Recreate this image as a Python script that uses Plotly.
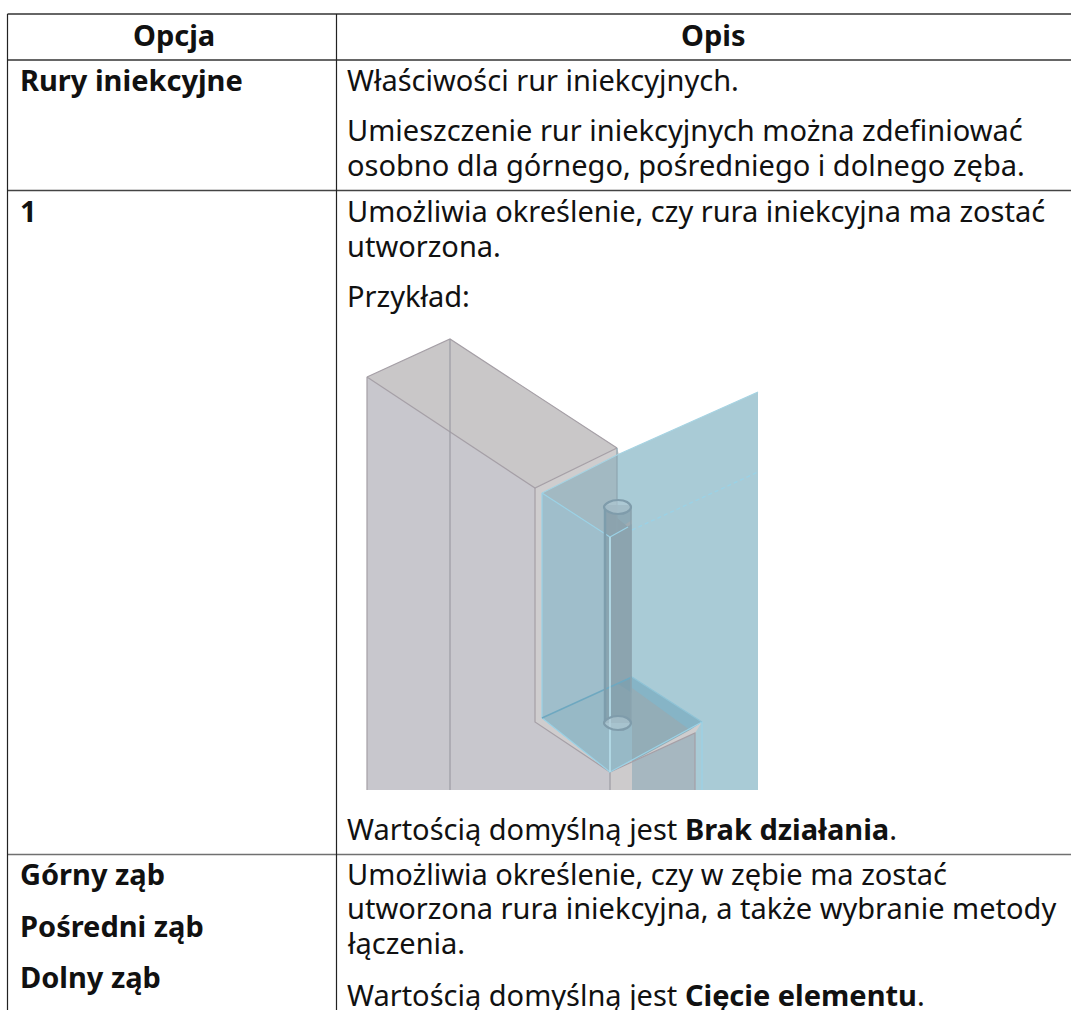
import plotly.graph_objects as go

W, H = 1071, 1010
FONT = "Noto Sans"
FS = 29

# table text: (x, y-centre, anchor, text)
header_labels = [(174, 34, "center", "<b>Opcja</b>"), (713, 34, "center", "<b>Opis</b>")]
option_labels = [
    (18, 79, "left", "<b>Rury iniekcyjne</b>"),
    (18, 210, "left", "<b>1</b>"),
    (18, 873, "left", "<b>Górny ząb</b>"),
    (18, 925, "left", "<b>Pośredni ząb</b>"),
    (18, 976, "left", "<b>Dolny ząb</b>"),
]
desc_labels = [
    (345, 79, "left", "Właściwości rur iniekcyjnych."),
    (345, 129, "left", "Umieszczenie rur iniekcyjnych można zdefiniować"),
    (345, 164, "left", "osobno dla górnego, pośredniego i dolnego zęba."),
    (345, 210, "left", "Umożliwia określenie, czy rura iniekcyjna ma zostać"),
    (345, 245, "left", "utworzona."),
    (345, 295, "left", "Przykład:"),
    (345, 828, "left", "Wartością domyślną jest <b>Brak działania</b>."),
    (345, 873, "left", "Umożliwia określenie, czy w zębie ma zostać"),
    (345, 907, "left", "utworzona rura iniekcyjna, a także wybranie metody"),
    (345, 942, "left", "łączenia."),
    (345, 994, "left", "Wartością domyślną jest <b>Cięcie elementu</b>."),
]

# table rules: (position, colour, width)
rows_y = [(14, "#666666", 2), (60, "#333333", 1.6), (190.5, "#444444", 1.6), (854.5, "#707070", 1.6)]
cols_x = [(7.5, "#222222", 1.2), (336.5, "#222222", 1.2), (1070.5, "#aaaaaa", 1)]

# drawing: filled faces (x list, y list, colour)
faces = [
    ([367, 450, 617, 535], [377, 339, 448, 488], "#c9c7c8"),
    ([367, 535, 535, 610, 610, 367], [377, 488, 722, 772, 790, 790], "#c8c7cd"),
    ([535, 617, 702, 702, 695, 610, 535], [488, 448, 722, 725, 733, 772, 722], "#cfcdce"),
    ([610, 695, 695, 610], [772, 733, 790, 790], "#cdcbcc"),
    ([617, 758, 758, 702, 702, 632, 632, 617], [455, 392, 790, 790, 722, 677, 520, 530], "#a9cbd6"),
    ([632, 695, 702, 702, 632], [765, 733, 722, 790, 790], "#a9cbd6"),
    ([632, 695, 695, 632], [762, 733, 790, 790], "#a6b7c0"),
    ([542, 617, 617, 632, 610], [493, 455, 518, 530, 537], "#a2b9c2"),
    ([542, 610, 610, 542], [493, 537, 772, 718], "#9fbecb"),
    ([610, 632, 632, 610], [537, 524, 677, 690], "#a3bbc5"),
    ([542, 632, 702, 610], [718, 677, 722, 772], "#97b9c6"),
    ([632, 702, 690, 618], [677, 722, 730, 684], "#86b4c6"),
    ([632, 690, 632], [688, 730, 762], "#93adb7"),
]
tube_x = [604, 631, 631, 604]
tube_y = [505, 505, 723, 723]

# drawing: outlines (x list, y list, colour, width, dash)
edges = [
    ([367, 450, 617, 535, 367, 367], [377, 339, 448, 488, 377, 790], "#a59fa6", 1.2, "solid"),
    ([450, 450], [339, 790], "#9c9ba3", 1.2, "solid"),
    ([617, 617], [448, 678], "#8ea5b0", 1.2, "solid"),
    ([535, 535, 610, 695, 695], [488, 722, 772, 733, 790], "#a59fa6", 1.2, "solid"),
    ([610, 610], [772, 790], "#9c9ba3", 1.2, "solid"),
    ([542, 617], [493, 455], "#a6d3e2", 1.2, "solid"),
    ([617, 758], [455, 392], "#a6d3e2", 1.2, "solid"),
    ([542, 610, 610, 702, 702], [493, 537, 772, 722, 790], "#9bd2e6", 1.2, "solid"),
    ([542, 542, 610], [493, 718, 772], "#9bd2e6", 1.2, "solid"),
    ([542, 632], [718, 677], "#6ea8c0", 1.4, "solid"),
    ([632, 702], [677, 722], "#8fc3d6", 1.2, "solid"),
    ([610, 628], [537, 527], "#9bd2e6", 1.2, "solid"),
    ([632, 758], [530, 472], "#9bd2e6", 1.4, "4px,3px"),
    ([605, 605], [507, 722], "#7d9dac", 2.5, "solid"),
    ([631, 631], [507, 722], "#8ba3ae", 1.6, "solid"),
    ([610, 610], [537, 772], "#b7dbe6", 1.6, "solid"),
]
tube_cap_top_x = [604, 609, 618, 627, 631, 627, 618, 609, 604]
tube_cap_top_y = [507, 502, 500, 502, 507, 512, 514, 512, 507]
tube_cap_bot_x = [604, 609, 618, 627, 631, 627, 618, 609, 604]
tube_cap_bot_y = [723, 718, 716, 718, 723, 728, 730, 728, 723]

fig = go.Figure()

for fx, fy, col in faces:
    fig.add_trace(go.Scatter(x=fx, y=fy, mode="lines", fill="toself", fillcolor=col,
                             line=dict(width=0), hoverinfo="skip", showlegend=False))
fig.add_trace(go.Scatter(x=tube_x, y=tube_y, mode="lines", fill="toself",
                         fillcolor="rgba(125,148,160,0.6)", line=dict(width=0),
                         hoverinfo="skip", showlegend=False))
for ex, ey, col, w, d in edges:
    fig.add_trace(go.Scatter(x=ex, y=ey, mode="lines", line=dict(color=col, width=w, dash=d),
                             hoverinfo="skip", showlegend=False))
for cx, cy in [(tube_cap_top_x, tube_cap_top_y), (tube_cap_bot_x, tube_cap_bot_y)]:
    fig.add_trace(go.Scatter(x=cx, y=cy, mode="lines", fill="toself",
                             fillcolor="rgba(175,200,210,0.65)",
                             line=dict(color="#7f9cab", width=2.2, shape="spline"),
                             hoverinfo="skip", showlegend=False))

# table rules
for y, col, w in rows_y:
    fig.add_trace(go.Scatter(x=[cols_x[0][0], W], y=[y, y], mode="lines",
                             line=dict(color=col, width=w), hoverinfo="skip", showlegend=False))
for x, col, w in cols_x[:2]:
    fig.add_trace(go.Scatter(x=[x, x], y=[rows_y[0][0], H], mode="lines",
                             line=dict(color=col, width=w), hoverinfo="skip", showlegend=False))

annotations = [
    dict(x=x, y=y, text=t, xanchor=a, yanchor="middle", xref="x", yref="y", showarrow=False,
         align=a, font=dict(family=FONT, size=FS, color="#111111"))
    for x, y, a, t in header_labels + option_labels + desc_labels
]

fig.update_layout(
    width=W, height=H, margin=dict(l=0, r=0, t=0, b=0),
    paper_bgcolor="white", plot_bgcolor="white",
    xaxis=dict(range=[0, W], visible=False, fixedrange=True),
    yaxis=dict(range=[H, 0], visible=False, fixedrange=True),
    annotations=annotations, showlegend=False,
)
fig.write_html("out.html", config=dict(displayModeBar=False),
               post_script="document.body.style.margin='0';document.body.style.overflow='hidden';")
